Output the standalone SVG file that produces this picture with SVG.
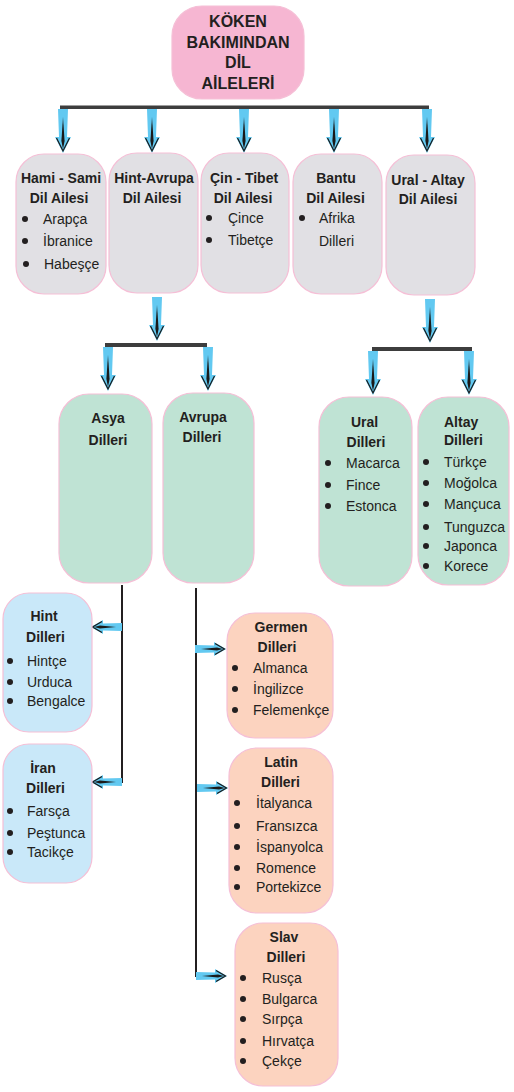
<svg xmlns="http://www.w3.org/2000/svg" xmlns:xlink="http://www.w3.org/1999/xlink" width="514" height="1092" viewBox="0 0 514 1092">
<style>
text{font-family:"Liberation Sans",Arial,sans-serif;fill:#231f20;font-size:14px}
.t{font-weight:bold;text-anchor:middle}
.tl{font-weight:bold}
.top{font-weight:bold;text-anchor:middle;font-size:16px}
.box{stroke:#f5bfd6;stroke-width:1.2}
.pink{fill:#f6b6d2}
.gray{fill:#e1e0e4}
.green{fill:#bfe3d4}
.blue{fill:#c9e8f9}
.peach{fill:#fcd3bf}
.bar{fill:#3d3d3d}
.line{stroke:#231f20;stroke-width:2;fill:none}
.ab{fill:#62c9f1}
.ak{fill:#1a1a1a}
.ac{fill:none;stroke:#1a1a1a;stroke-width:1.2}
</style>
<defs>
<g id="aDown">
<path class="ab" d="M-5,0 L5,0 L4,28 L8,28 L0,44 L-8,28 L-4,28 Z"/>
<path class="ak" d="M0,8 L1.6,32 L0,40 L-1.6,32 Z"/>
<path class="ac" d="M-6.5,29 L0,42 L6.5,29"/>
</g>
<g id="aSide">
<path class="ab" d="M-4,0 L4,0 L3.5,19 L7,19 L0,31 L-7,19 L-3.5,19 Z"/>
<path class="ak" d="M0,6 L1.4,22 L0,28 L-1.4,22 Z"/>
<path class="ac" d="M-5.5,20 L0,29.5 L5.5,20"/>
</g>
<circle id="dot" r="3" fill="#231f20"/>
</defs>

<g id="connectors">
<rect class="bar" x="60" y="105.5" width="369" height="3.5"/>
<use xlink:href="#aDown" transform="translate(63,109)"/>
<use xlink:href="#aDown" transform="translate(152,109)"/>
<use xlink:href="#aDown" transform="translate(244,109)"/>
<use xlink:href="#aDown" transform="translate(334,109)"/>
<use xlink:href="#aDown" transform="translate(427,109)"/>
<use xlink:href="#aDown" transform="translate(157,297)"/>
<rect class="bar" x="105" y="343" width="102" height="4"/>
<use xlink:href="#aDown" transform="translate(108,347)"/>
<use xlink:href="#aDown" transform="translate(208,347)"/>
<use xlink:href="#aDown" transform="translate(430,299)"/>
<rect class="bar" x="372" y="347" width="100" height="4"/>
<use xlink:href="#aDown" transform="translate(373,351)"/>
<use xlink:href="#aDown" transform="translate(469,351)"/>
<path class="line" d="M122,585 V783"/>
<path class="line" d="M196,588 V977"/>
<use xlink:href="#aSide" transform="translate(122,627) rotate(90)"/>
<use xlink:href="#aSide" transform="translate(122,782) rotate(90)"/>
<use xlink:href="#aSide" transform="translate(195,649) rotate(-90)"/>
<use xlink:href="#aSide" transform="translate(197,788) rotate(-90)"/>
<use xlink:href="#aSide" transform="translate(196,976) rotate(-90)"/>
</g>

<g id="root">
<rect class="box pink" x="172" y="6" width="132" height="93" rx="30"/>
<text class="top" x="238" y="27">KÖKEN</text>
<text class="top" x="238" y="48">BAKIMINDAN</text>
<text class="top" x="238" y="68">DİL</text>
<text class="top" x="238" y="89">AİLELERİ</text>
</g>

<g id="hami-sami">
<rect class="box gray" x="16" y="154" width="90" height="140" rx="28"/>
<text class="t" x="61" y="183">Hami - Sami</text>
<text class="t" x="59" y="203">Dil Ailesi</text>
<use xlink:href="#dot" x="25" y="219"/><text x="43" y="224">Arapça</text>
<use xlink:href="#dot" x="25" y="241"/><text x="43" y="246">İbranice</text>
<use xlink:href="#dot" x="26" y="264"/><text x="44" y="269">Habeşçe</text>
</g>

<g id="hint-avrupa">
<rect class="box gray" x="109" y="153" width="89" height="140" rx="28"/>
<text class="t" x="154" y="183">Hint-Avrupa</text>
<text class="t" x="152" y="203">Dil Ailesi</text>
</g>

<g id="cin-tibet">
<rect class="box gray" x="201" y="153" width="88" height="140" rx="28"/>
<text class="t" x="244" y="183">Çin - Tibet</text>
<text class="t" x="243" y="203">Dil Ailesi</text>
<use xlink:href="#dot" x="209" y="218"/><text x="228" y="223">Çince</text>
<use xlink:href="#dot" x="209" y="240"/><text x="228" y="245">Tibetçe</text>
</g>

<g id="bantu">
<rect class="box gray" x="293" y="154" width="89" height="140" rx="28"/>
<text class="t" x="336" y="183">Bantu</text>
<text class="t" x="335.5" y="203">Dil Ailesi</text>
<use xlink:href="#dot" x="302" y="218"/><text x="319" y="223">Afrika</text>
<text x="319" y="246">Dilleri</text>
</g>

<g id="ural-altay">
<rect class="box gray" x="386" y="155" width="89" height="140" rx="28"/>
<text class="t" x="428" y="185">Ural - Altay</text>
<text class="t" x="428" y="204">Dil Ailesi</text>
</g>

<g id="asya">
<rect class="box green" x="59" y="394" width="93" height="189" rx="30"/>
<text class="t" x="108" y="423">Asya</text>
<text class="t" x="108" y="445">Dilleri</text>
</g>

<g id="avrupa">
<rect class="box green" x="163" y="393" width="91" height="190" rx="30"/>
<text class="t" x="203" y="422">Avrupa</text>
<text class="t" x="202" y="442">Dilleri</text>
</g>

<g id="ural">
<rect class="box green" x="319" y="397" width="93" height="189" rx="30"/>
<text class="t" x="364.5" y="427">Ural</text>
<text class="t" x="366" y="447">Dilleri</text>
<use xlink:href="#dot" x="328" y="463"/><text x="346" y="468">Macarca</text>
<use xlink:href="#dot" x="328" y="485"/><text x="346" y="490">Fince</text>
<use xlink:href="#dot" x="328" y="506"/><text x="346" y="511">Estonca</text>
</g>

<g id="altay">
<rect class="box green" x="418" y="397" width="91" height="188" rx="30"/>
<text class="tl" x="444" y="427">Altay</text>
<text class="tl" x="444" y="445">Dilleri</text>
<use xlink:href="#dot" x="426" y="462"/><text x="444" y="467">Türkçe</text>
<use xlink:href="#dot" x="426" y="483"/><text x="444" y="488">Moğolca</text>
<use xlink:href="#dot" x="426" y="504"/><text x="444" y="509">Mançuca</text>
<use xlink:href="#dot" x="426" y="527"/><text x="444" y="532">Tunguzca</text>
<use xlink:href="#dot" x="426" y="546"/><text x="444" y="551">Japonca</text>
<use xlink:href="#dot" x="426" y="566"/><text x="444" y="571">Korece</text>
</g>

<g id="hint">
<rect class="box blue" x="3" y="593" width="89" height="139" rx="26"/>
<text class="t" x="44" y="621">Hint</text>
<text class="t" x="45.5" y="642">Dilleri</text>
<use xlink:href="#dot" x="10" y="661"/><text x="27" y="666">Hintçe</text>
<use xlink:href="#dot" x="10" y="682"/><text x="27" y="687">Urduca</text>
<use xlink:href="#dot" x="10" y="701"/><text x="27" y="706">Bengalce</text>
</g>

<g id="iran">
<rect class="box blue" x="3" y="744" width="89" height="139" rx="26"/>
<text class="t" x="43" y="773">İran</text>
<text class="t" x="45.5" y="793">Dilleri</text>
<use xlink:href="#dot" x="10" y="811"/><text x="27" y="816">Farsça</text>
<use xlink:href="#dot" x="10" y="833"/><text x="27" y="838">Peştunca</text>
<use xlink:href="#dot" x="10" y="852"/><text x="27" y="857">Tacikçe</text>
</g>

<g id="germen">
<rect class="box peach" x="227" y="613" width="106" height="125" rx="28"/>
<text class="t" x="281" y="632">Germen</text>
<text class="t" x="277" y="652">Dilleri</text>
<use xlink:href="#dot" x="235" y="668"/><text x="253" y="673">Almanca</text>
<use xlink:href="#dot" x="235" y="689"/><text x="253" y="694">İngilizce</text>
<use xlink:href="#dot" x="235" y="710"/><text x="253" y="715">Felemenkçe</text>
</g>

<g id="latin">
<rect class="box peach" x="229" y="748" width="104" height="165" rx="28"/>
<text class="t" x="281" y="767">Latin</text>
<text class="t" x="280.5" y="787">Dilleri</text>
<use xlink:href="#dot" x="237" y="803"/><text x="256" y="808">İtalyanca</text>
<use xlink:href="#dot" x="237" y="826"/><text x="256" y="831">Fransızca</text>
<use xlink:href="#dot" x="237" y="847"/><text x="256" y="852">İspanyolca</text>
<use xlink:href="#dot" x="237" y="868"/><text x="256" y="873">Romence</text>
<use xlink:href="#dot" x="237" y="887"/><text x="256" y="892">Portekizce</text>
</g>

<g id="slav">
<rect class="box peach" x="235" y="923" width="103" height="163" rx="28"/>
<text class="t" x="284" y="942">Slav</text>
<text class="t" x="286" y="962">Dilleri</text>
<use xlink:href="#dot" x="243" y="978"/><text x="262" y="983">Rusça</text>
<use xlink:href="#dot" x="243" y="999"/><text x="262" y="1004">Bulgarca</text>
<use xlink:href="#dot" x="243" y="1019"/><text x="262" y="1024">Sırpça</text>
<use xlink:href="#dot" x="243" y="1041"/><text x="262" y="1046">Hırvatça</text>
<use xlink:href="#dot" x="243" y="1061"/><text x="262" y="1066">Çekçe</text>
</g>
</svg>
